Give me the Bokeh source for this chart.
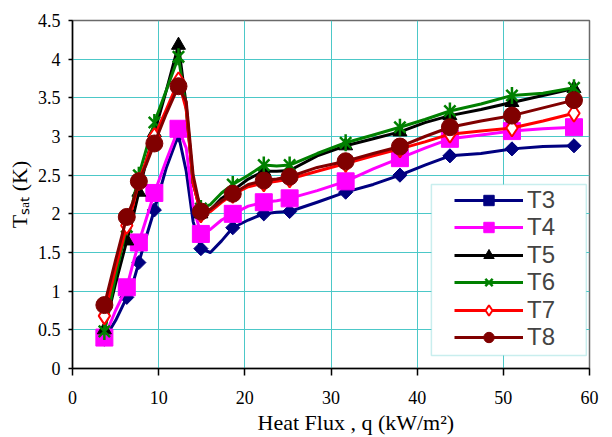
import math
from bokeh.plotting import figure
from bokeh.models import (Range1d, FixedTicker, CustomJSTickFormatter, Legend,
                          LegendItem, BoxAnnotation, Title)
from bokeh.core.properties import value
from bokeh.embed import file_html
from bokeh.resources import INLINE

# ---------------- data ----------------
q = [3.7, 5.0, 6.3, 7.0, 7.7, 8.6, 9.5, 10.9, 12.3, 13.2, 14.0, 14.9, 16.0, 17.3,
     18.6, 20.4, 22.2, 23.7, 25.2, 28.4, 31.7, 34.9, 38.0, 40.9, 43.8, 47.4,
     51.0, 54.6, 58.2]
marker_idx = [0, 2, 4, 6, 8, 11, 14, 16, 18, 20, 22, 24, 26, 28]

T3 = [0.38, 0.62, 0.92, 1.1, 1.37, 1.72, 2.05, 2.6, 3.02, 2.55, 1.9, 1.55, 1.5, 1.65,
      1.82, 1.92, 2.0, 2.02, 2.03, 2.15, 2.28, 2.38, 2.5, 2.63, 2.75, 2.78, 2.84, 2.87, 2.88]
T4 = [0.4, 0.75, 1.05, 1.35, 1.63, 1.95, 2.27, 2.7, 3.1, 2.85, 2.1, 1.74, 1.8, 1.92,
      2.0, 2.1, 2.15, 2.17, 2.2, 2.3, 2.42, 2.58, 2.72, 2.85, 2.97, 3.02, 3.07, 3.1, 3.12]
T5 = [0.5, 1.1, 1.65, 1.95, 2.28, 2.7, 3.05, 3.6, 4.18, 3.4, 2.4, 2.0, 2.05, 2.2,
      2.3, 2.45, 2.55, 2.55, 2.56, 2.75, 2.88, 2.97, 3.06, 3.18, 3.27, 3.35, 3.44, 3.53, 3.62]
T6 = [0.48, 1.2, 1.83, 2.15, 2.5, 2.85, 3.18, 3.6, 4.03, 3.35, 2.4, 2.07, 2.12, 2.27,
      2.38, 2.5, 2.63, 2.62, 2.63, 2.78, 2.92, 3.02, 3.12, 3.22, 3.33, 3.42, 3.53, 3.56, 3.63]
T7 = [0.68, 1.3, 1.85, 2.1, 2.42, 2.7, 3.0, 3.35, 3.72, 3.35, 2.4, 2.0, 2.03, 2.15,
      2.25, 2.35, 2.4, 2.42, 2.45, 2.55, 2.65, 2.75, 2.84, 2.93, 3.03, 3.07, 3.11, 3.2, 3.3]
T8 = [0.82, 1.4, 1.96, 2.15, 2.42, 2.65, 2.91, 3.3, 3.65, 3.45, 2.5, 2.03, 2.06, 2.17,
      2.26, 2.38, 2.43, 2.45, 2.48, 2.6, 2.68, 2.78, 2.87, 3.0, 3.12, 3.2, 3.27, 3.37, 3.47]

series_names = ["T3", "T4", "T5", "T6", "T7", "T8"]
x_ticks = [0, 10, 20, 30, 40, 50, 60]
y_ticks = [0, 0.5, 1, 1.5, 2, 2.5, 3, 3.5, 4, 4.5]
x_title = "Heat Flux , q (kW/m\u00b2)"
y_title = "T\u209b\u2090\u209c (K)"

GRID = "#4CC8C8"
SERIF = "'Liberation Serif', 'Times New Roman', serif"
SANS = "'Liberation Sans', Arial, sans-serif"

p = figure(width=604, height=437, frame_width=517, frame_height=348,
           min_border_left=72, min_border_right=15, min_border_top=20,
           min_border_bottom=69, x_range=Range1d(0, 60), y_range=Range1d(0, 4.5),
           output_backend="svg", toolbar_location=None)
p.background_fill_color = "white"
p.border_fill_color = "white"
p.outline_line_color = "#6a6a6a"
p.outline_line_width = 1.5

p.xaxis.ticker = FixedTicker(ticks=x_ticks)
p.yaxis.ticker = FixedTicker(ticks=y_ticks)
p.xgrid.ticker = FixedTicker(ticks=x_ticks)
p.ygrid.ticker = FixedTicker(ticks=y_ticks)
p.xaxis.formatter = CustomJSTickFormatter(code="return String(tick);")
p.yaxis.formatter = CustomJSTickFormatter(code="return String(tick);")
p.grid.grid_line_color = GRID
p.grid.grid_line_width = 1

for ax in (p.xaxis, p.yaxis):
    ax.axis_line_color = "black"
    ax.axis_line_width = 1.5
    ax.major_tick_line_color = "black"
    ax.major_tick_line_width = 1.5
    ax.minor_tick_line_color = None
    ax.major_tick_in = 0
    ax.major_label_text_font = SERIF
    ax.major_label_text_font_size = "18px"
    ax.major_label_text_color = "black"
p.xaxis.major_tick_out = 7
p.xaxis.major_label_standoff = 15
p.yaxis.major_tick_out = 4
p.yaxis.major_label_standoff = 8

p.yaxis.axis_label = y_title
p.yaxis.axis_label_text_font = SERIF
p.yaxis.axis_label_text_font_size = "22px"
p.yaxis.axis_label_text_font_style = "normal"
p.yaxis.axis_label_text_color = "black"
p.yaxis.axis_label_standoff = 3

p.add_layout(Title(text=x_title, align="left", offset=185, standoff=2,
                   text_font=SERIF, text_font_size="22px",
                   text_font_style="normal", text_color="black"), "below")

qm = [q[i] for i in marker_idx]
def pick(vals):
    return [vals[i] for i in marker_idx]

items = []
# T3
l = p.line(q, T3, line_color="#000080", line_width=3, line_join="round")
s = p.scatter(qm, pick(T3), marker="square", angle=math.pi / 4, size=10,
              fill_color="#000080", line_color="#000080")
items.append(LegendItem(label=value(series_names[0]), renderers=[l, s]))
# T4
l = p.line(q, T4, line_color="#FF00FF", line_width=3, line_join="round")
s = p.scatter(qm, pick(T4), marker="square", size=17,
              fill_color="#FF00FF", line_color="#FF00FF")
items.append(LegendItem(label=value(series_names[1]), renderers=[l, s]))
# T5
l = p.line(q, T5, line_color="black", line_width=3, line_join="round")
s = p.scatter(qm, pick(T5), marker="triangle", size=14,
              fill_color="black", line_color="black")
items.append(LegendItem(label=value(series_names[2]), renderers=[l, s]))
# T6
l = p.line(q, T6, line_color="#008000", line_width=3, line_join="round")
s1 = p.scatter(qm, pick(T6), marker="x", size=16, line_color="#008000", line_width=2.5)
s2 = p.scatter(qm, pick(T6), marker="dash", angle=math.pi / 2, size=17,
               line_color="#008000", line_width=2.5)
items.append(LegendItem(label=value(series_names[3]), renderers=[l, s1, s2]))
# T7
l = p.line(q, T7, line_color="#FF0000", line_width=3, line_join="round")
s = p.scatter(qm, pick(T7), marker="diamond", size=17, fill_color="white",
              line_color="#FF0000", line_width=2)
items.append(LegendItem(label=value(series_names[4]), renderers=[l, s]))
# T8
l = p.line(q, T8, line_color="#800000", line_width=3, line_join="round")
s = p.scatter(qm, pick(T8), marker="circle", size=17,
              fill_color="#800000", line_color="#800000")
items.append(LegendItem(label=value(series_names[5]), renderers=[l, s]))

box = BoxAnnotation(left=41.65, right=59.63, bottom=0.168, top=2.379,
                    fill_color="white", fill_alpha=1.0,
                    line_color=GRID, line_width=1.5)
p.add_layout(box)

# one legend row per entry, stacked tightly like the reference
row_offsets = [154, 127, 99, 72, 44, 17]
for item, yoff in zip(items, row_offsets):
    lg = Legend(items=[item], location=(382, yoff), glyph_width=69, glyph_height=26,
                label_height=26, spacing=0, padding=0, margin=0, label_standoff=4,
                label_text_font=SANS, label_text_font_size="24px",
                border_line_color=None, background_fill_alpha=0)
    p.add_layout(lg)

open("out.html", "w").write(file_html(p, INLINE))
